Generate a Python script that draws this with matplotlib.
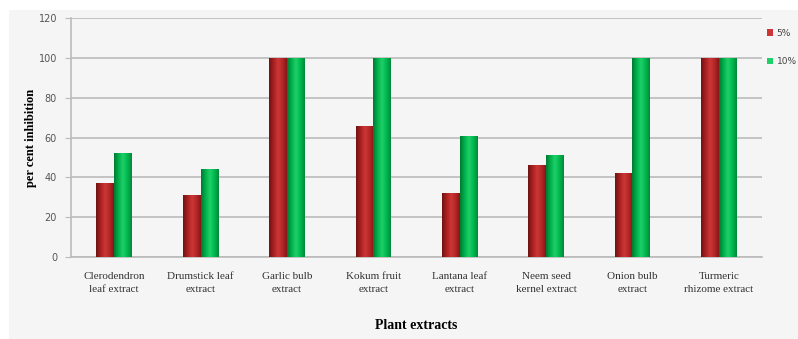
import numpy as np
import matplotlib
matplotlib.use("Agg")
import matplotlib.pyplot as plt
from matplotlib.colors import LinearSegmentedColormap

extracts = ["Clerodendron\nleaf extract", "Drumstick leaf\nextract", "Garlic bulb\nextract",
            "Kokum fruit\nextract", "Lantana leaf\nextract", "Neem seed\nkernel extract",
            "Onion bulb\nextract", "Turmeric\nrhizome extract"]
conc_5 = [37, 31, 100, 66, 32, 46, 42, 100]
conc_10 = [52, 44, 100, 100, 61, 51, 100, 100]
series_names = ["5%", "10%"]

red_cmap = LinearSegmentedColormap.from_list("red3d", ["#701212", "#a82020", "#cc3636", "#b52828", "#861616"])
green_cmap = LinearSegmentedColormap.from_list("green3d", ["#007a30", "#00b04c", "#1fd068", "#00b850", "#008a38"])

fig = plt.figure(figsize=(7.98, 3.39), dpi=100)
fig.patch.set_facecolor("white")

# light gray chart panel, offset from the top-left edge
bg = fig.add_axes([9 / 798, 0.0, 1 - 9 / 798, 1 - 10 / 339], zorder=-5)
bg.set_facecolor("#f5f5f5")
bg.set_xticks([])
bg.set_yticks([])
for s in bg.spines.values():
    s.set_visible(False)

ax = fig.add_axes([71 / 798, 1 - 257 / 339, (762 - 71) / 798, (257 - 18) / 339])
ax.set_facecolor("#f5f5f5")

x = np.arange(len(extracts))
w = 0.205
grad = np.linspace(0, 1, 64).reshape(1, -1)


def shaded_bars(xs, vals, cmap, label):
    bars = ax.bar(xs, vals, w, color=cmap(0.5), edgecolor="none", label=label, zorder=3)
    for b in bars:
        x0, y0 = b.get_x(), b.get_y()
        im = ax.imshow(grad, cmap=cmap, aspect="auto", zorder=4,
                       extent=(x0, x0 + b.get_width(), y0, y0 + b.get_height()))
        im.set_clip_path(b)
    return bars


shaded_bars(x - w / 2, conc_5, red_cmap, series_names[0])
shaded_bars(x + w / 2, conc_10, green_cmap, series_names[1])

ax.set_xlim(-0.5, len(extracts) - 0.5)
ax.set_ylim(0, 120)
ax.set_yticks(np.arange(0, 121, 20))
ax.grid(axis="y", color="#bbbbbb", linewidth=1.2, zorder=1)
ax.set_axisbelow(True)

for s in ["top", "right"]:
    ax.spines[s].set_visible(False)
ax.spines["left"].set_color("#bbbbbb")
ax.spines["left"].set_linewidth(1.2)
ax.spines["bottom"].set_color("#bbbbbb")
ax.spines["bottom"].set_linewidth(1.2)

ax.tick_params(axis="y", length=4, color="#bbbbbb", labelsize=7, labelcolor="#555555", pad=6)
ax.tick_params(axis="x", length=0, pad=11)
ax.set_xticks(x)
ax.set_xticklabels(extracts, fontsize=8, family="Liberation Serif", color="#333333", linespacing=1.5)

ax.set_ylabel("per cent inhibition", fontsize=9, family="Liberation Serif", fontweight="bold", labelpad=1)
ax.set_xlabel("Plant extracts", fontsize=10, family="Liberation Serif", fontweight="bold", labelpad=18)

leg = ax.legend(loc="upper left", bbox_to_anchor=(0.995, 0.99), frameon=False, fontsize=6.5,
                handlelength=0.7, handleheight=0.7, handletextpad=0.4, labelspacing=2.2)
for t in leg.get_texts():
    t.set_color("#444444")

fig.savefig("out.png", dpi=100, facecolor=fig.get_facecolor())
